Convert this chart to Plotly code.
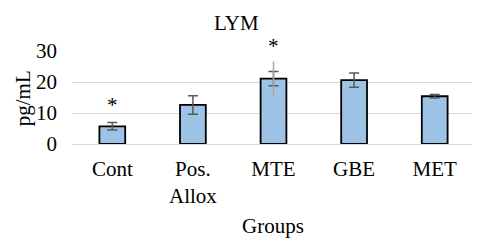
import plotly.graph_objects as go

categories = ["Cont", "Pos.<br>Allox", "MTE", "GBE", "MET"]
values = [5.7, 12.6, 21.1, 20.6, 15.4]
errors = [1.2, 3.0, 2.3, 2.3, 0.6]
extra_err = [0, 0, 5.5, 0, 0]
star_idx = [0, 2]
star_y = [12.6, 31.6]

font_family = "Liberation Serif, Times New Roman, serif"
FS = 21
Y_MAX = 30

# the page body adds an 8px offset; the figure is sized to fit the window
PAGE_OFF = 8
PLOT_L, PLOT_R, PLOT_T, PLOT_B = 72, 475, 51, 144.5  # target pixel box in window
PW = PLOT_R - PLOT_L
PH = PLOT_B - PLOT_T


def px(x):
    return (x - PLOT_L) / PW


def py(y):
    return (PLOT_B - y) / PH


fig = go.Figure()
# lighter extended error line on MTE
fig.add_trace(go.Scatter(
    x=categories, y=values, mode="markers",
    marker=dict(opacity=0),
    error_y=dict(type="data", array=extra_err, visible=True,
                 color="#a6a6a6", thickness=1.5, width=0),
    showlegend=False, hoverinfo="skip"))
fig.add_trace(go.Bar(
    x=categories, y=values,
    marker=dict(color="#9dc3e6", line=dict(color="#000000", width=1.8)),
    width=0.32,
    error_y=dict(type="data", array=errors, visible=True,
                 color="#595959", thickness=1.5, width=5),
    showlegend=False))

for i, y in zip(star_idx, star_y):
    fig.add_annotation(x=categories[i], y=y / Y_MAX, yref="paper", text="*",
                       showarrow=False,
                       font=dict(size=FS, color="#000000", family=font_family),
                       yanchor="middle")

# title: box top at the top edge of the figure
fig.add_annotation(xref="paper", yref="paper", x=px(236), y=py(PAGE_OFF + 0.5),
                   text="LYM", showarrow=False, xanchor="center", yanchor="top",
                   font=dict(size=FS, color="#000000", family=font_family))
fig.add_annotation(xref="paper", yref="paper", x=px(273), y=py(227),
                   text="Groups", showarrow=False, xanchor="center", yanchor="middle",
                   font=dict(size=FS, color="#000000", family=font_family))
# y title: box left at the left edge of the figure
fig.add_annotation(xref="paper", yref="paper", x=px(PAGE_OFF + 0.5), y=py(99),
                   text="pg/mL", showarrow=False, xanchor="left", yanchor="middle",
                   textangle=-90,
                   font=dict(size=FS, color="#000000", family=font_family))

W, H = 480 - PAGE_OFF, 244 - PAGE_OFF
fig.update_layout(
    width=W, height=H,
    margin=dict(l=PLOT_L - PAGE_OFF, r=480 - PLOT_R, t=PLOT_T - PAGE_OFF,
                b=244 - PLOT_B, autoexpand=False),
    paper_bgcolor="white", plot_bgcolor="white",
    font=dict(family=font_family, size=FS, color="#000000"),
    barmode="overlay",
    xaxis=dict(showgrid=False, showline=False, ticks="", automargin=False,
               ticklabelstandoff=10,
               tickfont=dict(size=FS, family=font_family)),
    yaxis=dict(range=[0, Y_MAX], dtick=10, showgrid=True, gridcolor="#d9d9d9",
               gridwidth=1, zeroline=True, zerolinecolor="#d9d9d9",
               zerolinewidth=1, showline=False, ticks="", automargin=False,
               ticklabelstandoff=14,
               tickfont=dict(size=FS, family=font_family)),
)

fig.write_html("out.html")
